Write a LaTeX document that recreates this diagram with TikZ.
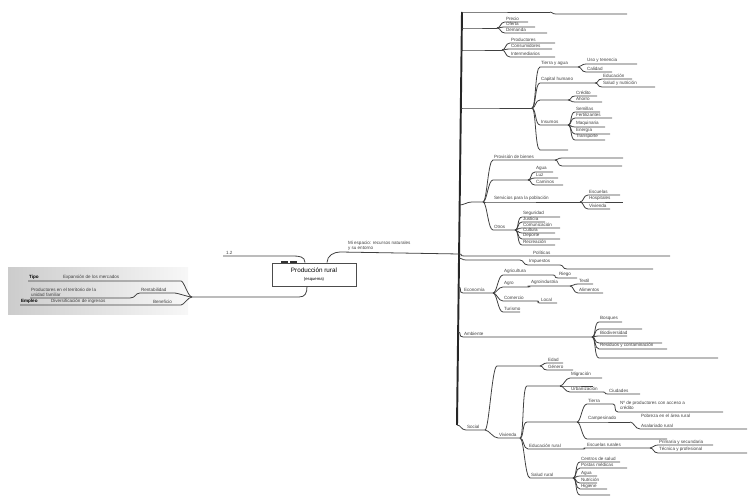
\documentclass[tikz,border=0pt]{standalone}
\usepackage{fontspec}
\setmainfont{Liberation Sans}
\usepackage{tikz}
\usetikzlibrary{positioning,arrows.meta}

% one branch of the map: parent, name, x start, y, x end, label
\newcommand{\twig}[6]{%
  \coordinate (#2s) at (#3,#4);
  \coordinate (#2) at (#5,#4);
  \draw[twig] (#1) .. controls +(4,0) and +(-5,0) .. (#2s) -- (#2);
  \node[lbl] (#2t) at (#2s) {#6};
}

\begin{document}
\begin{tikzpicture}[
    x=0.02cm, y=-0.02cm,
    twig/.style={draw=black!75, line width=0.45pt},
    trunk/.style={draw=black!85, line width=1.1pt},
    lbl/.style={font=\fontsize{2.6}{3}\selectfont, inner sep=0.4pt, anchor=south west, text=black!75},
    hub/.style={rectangle, draw=black!70, fill=white, line width=0.5pt, minimum width=1.68cm, minimum height=0.46cm, align=center, inner sep=1pt, font=\fontsize{3.6}{4.6}\selectfont}
]
    \useasboundingbox (0,0) rectangle (750,496);

    % Left: grey panel
    \fill[left color=gray!40, right color=gray!6] (8,268) rectangle (188,315);
    \coordinate (lj) at (192,297);
    \coordinate (l1) at (28,281);
    \coordinate (l2) at (30,298);
    \coordinate (l3) at (20,305);
    \draw[twig] (lj) .. controls +(-4,0) and +(3,0) .. (181,281) -- (l1);
    \draw[twig] (lj) .. controls +(-4,0) and +(4,0) .. (174,293) -- (140,293)
        .. controls (135,293) and (136,298) .. (130,298) -- (l2);
    \draw[twig] (lj) .. controls +(-4,0) and +(3,0) .. (181,305) -- (l3);
    \node[lbl, text=black] (l1a) at (l1) {\textbf{Tipo}};
    \node[lbl] (l1b) at (62,281) {Expansión de los mercados};
    \node[lbl, align=left] (l2a) at (l2) {Productores en el territorio de la\\unidad familiar};
    \node[lbl] (l2b) at (140,293) {Rentabilidad};
    \node[lbl, text=black] (l3a) at (l3) {\textbf{Empleo}};
    \node[lbl] (l3b) at (50,305) {Diversificación de ingresos};
    \node[lbl] (l3c) at (152,305) {Beneficio};

    % Centre box
    \node[hub] (box) at (314,274.5) {Producción rural\\{\fontsize{2.4}{3}\selectfont (esquema)}};
    \draw[line width=1.3pt, black!80, dash pattern=on 4pt off 1.2pt] (281,261.8) -- (299,261.8);
    \coordinate (up) at (223,256);
    \draw[twig] ([xshift=-0.18cm]box.north) .. controls +(0,-6) and +(6,0) .. (293,256) -- (up);
    \node[lbl] (upt) at (225,256) {1.2};
    \draw[twig] ([xshift=-0.14cm]box.south) .. controls +(0,7) and +(6,0) .. (299,297) -- (lj);

    % Trunk
    \coordinate (t1) at (462,12);
    \coordinate (t2) at (461.6,28);
    \coordinate (t3) at (461.4,50);
    \coordinate (t4) at (460.8,108);
    \coordinate (t5) at (459.8,205);
    \coordinate (t6) at (459.3,254);
    \coordinate (t7) at (459.1,258);
    \coordinate (t8) at (458.6,287);
    \coordinate (t9) at (458,332);
    \coordinate (t10) at (457,425);
    \draw[trunk] (t1) -- (t10);
    \draw[twig] ([xshift=0.26cm]box.north) .. controls +(0,-7) and +(-6,0) .. (340,252) -- (t6);
    \node[lbl, align=left] (boxr) at (347,252) {Mi espacio: recursos naturales\\y su entorno};

    % Upper branches
    \twig{t1}{b1}{466}{12}{550}{}
    \twig{b1}{b1-1}{556}{14}{627}{}
    \twig{t2}{b2}{468}{28}{497}{}
    \twig{b2}{b2-1}{505}{22}{528}{Precio}
    \twig{b2}{b2-2}{505}{27}{535}{Oferta}
    \twig{b2}{b2-3}{505}{33}{547}{Demanda}
    \twig{t3}{b3}{468}{50}{502}{}
    \twig{b3}{b3-1}{510}{43}{555}{Productores}
    \twig{b3}{b3-2}{510}{49}{552}{Consumidores}
    \twig{b3}{b3-3}{510}{57}{555}{Intermediarios}

    \twig{t4}{b4}{468}{108}{532}{}
    \twig{b4}{b4-1}{540}{67}{578}{Tierra y agua}
    \twig{b4-1}{b4-1-1}{586}{64}{637}{Uso y tenencia}
    \twig{b4-1}{b4-1-2}{586}{72}{612}{Calidad}
    \twig{b4}{b4-2}{540}{83}{595}{Capital humano}
    \twig{b4-2}{b4-2-1}{602}{79}{632}{Educación}
    \twig{b4-2}{b4-2-2}{602}{87}{655}{Salud y nutrición}
    \twig{b4}{b4-3}{540}{100}{568}{}
    \twig{b4-3}{b4-3-1}{575}{96}{597}{Crédito}
    \twig{b4-3}{b4-3-2}{575}{102}{602}{Ahorro}
    \twig{b4}{b4-4}{540}{125}{568}{Insumos}
    \twig{b4-4}{b4-4-1}{575}{112}{600}{Semillas}
    \twig{b4-4}{b4-4-2}{575}{118}{612}{Fertilizantes}
    \twig{b4-4}{b4-4-3}{575}{127}{605}{Maquinaria}
    \twig{b4-4}{b4-4-4}{575}{134}{610}{Energía}
    \twig{b4-4}{b4-4-5}{575}{140}{605}{Transporte}
    \twig{b4}{b4-5}{540}{150}{568}{}

    % Services
    \twig{t5}{b5}{472}{202}{483}{}
    \twig{b5}{b5-1}{493}{160}{555}{Provisión de bienes}
    \twig{b5-1}{b5-1-1}{562}{158}{623}{}
    \twig{b5-1}{b5-1-2}{562}{166}{622}{}
    \twig{b5}{b5-2}{493}{180}{528}{}
    \twig{b5-2}{b5-2-1}{535}{172}{553}{Agua}
    \twig{b5-2}{b5-2-2}{535}{178}{558}{Luz}
    \twig{b5-2}{b5-2-3}{535}{185}{563}{Caminos}
    \twig{b5}{b5-3}{493}{202}{580}{Servicios para la población}
    \twig{b5-3}{b5-3-1}{588}{195}{620}{Escuelas}
    \twig{b5-3}{b5-3-2}{588}{202}{623}{Hospitales}
    \twig{b5-3}{b5-3-3}{588}{209}{610}{Vivienda}
    \twig{b5}{b5-4}{493}{230}{515}{Otros}
    \twig{b5-4}{b5-4-1}{522}{217}{560}{Seguridad}
    \twig{b5-4}{b5-4-2}{522}{222}{545}{Justicia}
    \twig{b5-4}{b5-4-3}{522}{228}{560}{Comunicación}
    \twig{b5-4}{b5-4-4}{522}{233}{555}{Cultura}
    \twig{b5-4}{b5-4-5}{522}{239}{560}{Deporte}
    \twig{b5-4}{b5-4-6}{522}{245}{555}{Recreación}

    % Policies
    \twig{t6}{b6}{464}{256}{670}{}
    \node[lbl] (b6l) at (532,256) {Políticas};
    \twig{t7}{b7}{466}{260}{520}{}
    \twig{b7}{b7-1}{528}{265}{560}{Impuestos}
    \twig{b7-1}{b7-1-1}{567}{269}{653}{}

    % Economy
    \twig{t8}{b8}{463}{293}{493}{Economía}
    \twig{b8}{b8-1}{503}{275}{553}{Agricultura}
    \twig{b8-1}{b8-1-1}{558}{278}{577}{Riego}
    \twig{b8}{b8-2}{503}{287}{528}{Agro}
    \twig{b8-2}{b8-2-1}{530}{286}{570}{Agroindustria}
    \twig{b8-2-1}{b8-2-1-1}{578}{284}{593}{Textil}
    \twig{b8-2-1}{b8-2-1-2}{578}{293}{603}{Alimentos}
    \twig{b8}{b8-3}{503}{301}{537}{Comercio}
    \twig{b8-3}{b8-3-1}{540}{303}{557}{Local}
    \twig{b8}{b8-4}{503}{312}{520}{Turismo}

    % Environment
    \twig{t9}{b9}{463}{337}{592}{Ambiente}
    \twig{b9}{b9-1}{599}{322}{622}{Bosques}
    \twig{b9}{b9-2}{599}{329}{642}{}
    \twig{b9}{b9-3}{599}{336}{627}{Biodiversidad}
    \twig{b9}{b9-4}{599}{343}{662}{}
    \twig{b9}{b9-5}{599}{349}{667}{Residuos y contaminación}
    \twig{b9}{b9-6}{599}{358}{718}{}

    % Social
    \twig{t10}{b10}{466}{430}{485}{Social}
    \twig{b10}{b10-1}{497}{366}{540}{}
    \twig{b10-1}{b10-1-1}{547}{363}{563}{Edad}
    \twig{b10-1}{b10-1-2}{547}{370}{573}{Género}
    \twig{b10}{b10-2}{498}{438}{520}{Vivienda}
    \twig{b10-2}{b10-3}{527}{386}{560}{}
    \twig{b10-3}{b10-3-1}{570}{378}{602}{Migración}
    \twig{b10-3}{b10-3-2}{570}{386}{593}{}
    \twig{b10-3}{b10-3-3}{570}{392}{603}{Urbanización}
    \twig{b10-3-3}{b10-3-3-1}{608}{394}{640}{Ciudades}
    \twig{b10-2}{b10-4}{527}{422}{577}{}
    \twig{b10-4}{b10-4-1}{587}{404}{613}{Tierra}
    \twig{b10-4-1}{b10-4-1-1}{618}{412}{723}{}
    \node[lbl, align=left] (b10-4-1-1l) at (619,411) {Nº de productores con acceso a\\crédito};
    \twig{b10-4}{b10-4-2}{587}{422}{630}{Campesinado}
    \twig{b10-4-2}{b10-4-2-1}{640}{429}{747}{Asalariado rural}
    \node[lbl] (b10-4-2l) at (640,419) {Pobreza en el área rural};
    \twig{b10-4}{b10-4-3}{587}{439}{667}{}
    \twig{b10-2}{b10-5}{528}{449}{583}{Educación rural}
    \twig{b10-5}{b10-5-1}{586}{448}{650}{Escuelas rurales}
    \twig{b10-5-1}{b10-5-1-1}{658}{445}{713}{Primaria y secundaria}
    \twig{b10-5-1}{b10-5-1-2}{658}{453}{747}{Técnica y profesional}
    \twig{b10-2}{b10-6}{530}{478}{573}{Salud rural}
    \twig{b10-6}{b10-6-1}{580}{462}{620}{Centros de salud}
    \twig{b10-6}{b10-6-2}{580}{468}{627}{Postas médicas}
    \twig{b10-6}{b10-6-3}{580}{476}{597}{Agua}
    \twig{b10-6}{b10-6-4}{580}{483}{597}{Nutrición}
    \twig{b10-6}{b10-6-5}{580}{489}{607}{Higiene}
    \twig{b10-6}{b10-6-6}{580}{495}{610}{}

\end{tikzpicture}
\end{document}
